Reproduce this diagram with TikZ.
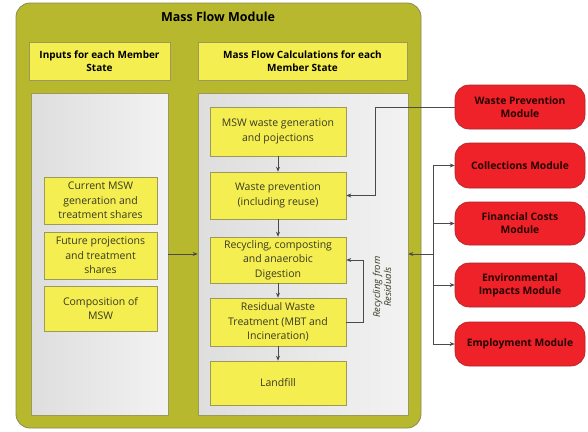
\documentclass[tikz,border=0pt]{standalone}
\usepackage{fontspec}
\setmainfont{Open Sans}
\usetikzlibrary{arrows.meta}
\definecolor{mfolive}{HTML}{B8B82E}
\definecolor{mfoliveline}{HTML}{8A8A55}
\definecolor{mfyellow}{HTML}{F4EE50}
\definecolor{mfyline}{HTML}{9C9A5A}
\definecolor{mfred}{HTML}{EE2228}
\definecolor{mfredline}{HTML}{A8262A}
\definecolor{mftext}{HTML}{3A3A22}
\definecolor{mfline}{HTML}{4A4A4A}
\tikzset{
  outerbox/.style={draw=mfoliveline, line width=0.8pt, fill=mfolive, rounded corners=14pt},
  headbox/.style={draw=mfyline, line width=0.6pt, fill=mfyellow, align=center, text=black,
    font=\bfseries\fontsize{10}{13}\selectfont, inner sep=1pt},
  panelbox/.style={draw=mfyline, line width=0.6pt, left color=black!13, right color=black!5},
  ybox/.style={draw=mfyline, line width=0.6pt, fill=mfyellow, align=center, text=mftext,
    font=\fontsize{10.5}{14.5}\selectfont, inner sep=1pt},
  redbox/.style={draw=mfredline, line width=0.6pt, fill=mfred, rounded corners=14pt, align=center,
    text=black!85!red, font=\bfseries\fontsize{10.3}{13}\selectfont, minimum width=130pt, inner sep=1pt},
  arr/.style={draw=mfline, line width=0.6pt, -{Stealth[length=5pt,width=4pt]}},
  ln/.style={draw=mfline, line width=0.6pt},
}
\begin{document}
\begin{tikzpicture}[x=1pt,y=-1pt]
\useasboundingbox (0,0) rectangle (588,431);
\fill[white] (0,0) rectangle (588,431);
% outer module
\node[outerbox, minimum width=405pt, minimum height=425pt] (outer) at (218.5,215.5) {};
\node[font=\bfseries\fontsize{12.5}{14}\selectfont, text=black] (title) at (218,17) {Mass Flow Module};
% headers
\node[headbox, minimum width=141pt, minimum height=38pt] (hl) at (99.5,61) {Inputs for each Member\\State};
\node[headbox, minimum width=209pt, minimum height=38pt] (hr) at (302.5,61) {Mass Flow Calculations for each\\Member State};
% panels
\node[panelbox, minimum width=137pt, minimum height=322pt] (pl) at (99.5,254) {};
\node[panelbox, minimum width=210pt, minimum height=322pt] (pr) at (303,254) {};
% left boxes
\node[ybox, minimum width=113pt, minimum height=47pt] (l1) at (100.5,200.5) {Current MSW\\generation and\\treatment shares};
\node[ybox, minimum width=113pt, minimum height=47pt] (l2) at (100.5,255.5) {Future projections\\and treatment\\shares};
\node[ybox, minimum width=113pt, minimum height=45pt] (l3) at (100.5,308.5) {Composition of\\MSW};
% right boxes
\node[ybox, minimum width=136pt, minimum height=49pt] (r1) at (278,131.5) {MSW waste generation\\and pojections};
\node[ybox, minimum width=136pt, minimum height=47pt] (r2) at (278,195.5) {Waste prevention\\(including reuse)};
\node[ybox, minimum width=136pt, minimum height=46pt] (r3) at (278,260) {Recycling, composting\\and anaerobic\\Digestion};
\node[ybox, minimum width=136pt, minimum height=48pt] (r4) at (278,322) {Residual Waste\\Treatment (MBT and\\Incineration)};
\node[ybox, minimum width=136pt, minimum height=44pt] (r5) at (278,383) {Landfill};
% red modules
\node[redbox, minimum height=44pt] (m1) at (520,107) {Waste Prevention\\Module};
\node[redbox, minimum height=45pt] (m2) at (520,165.5) {Collections Module};
\node[redbox, minimum height=43pt] (m3) at (520,223.5) {Financial Costs\\Module};
\node[redbox, minimum height=44pt] (m4) at (520,285) {Environmental\\Impacts Module};
\node[redbox, minimum height=44pt] (m5) at (520,344) {Employment Module};
% label
\node[rotate=90, align=center, text=mftext, font=\itshape\fontsize{9.5}{11}\selectfont] (reclab) at (382,287) {Recycling from\\Residuals};
% connectors
\draw[arr] (pl.east) -- (pr.west);
\draw[arr] (r1) -- (r2);
\draw[arr] (r2) -- (r3);
\draw[arr] (r3) -- (r4);
\draw[arr] (r4) -- (r5);
\coordinate (recx) at (363,0);
\draw[arr] (r4.east) -- (recx |- r4.east) |- (r3.east);
\coordinate (wpx) at (375,0);
\draw[arr] (m1.west) -- (wpx |- m1.west) |- (r2.east);
\coordinate (bus) at (433,254);
\draw[arr] (bus) -- (bus -| pr.east);
\draw[ln] (bus |- m2.west) -- (bus |- m5.west);
\draw[arr] (bus |- m2.west) -- (m2.west);
\draw[arr] (bus |- m3.west) -- (m3.west);
\draw[arr] (bus |- m4.west) -- (m4.west);
\draw[arr] (bus |- m5.west) -- (m5.west);
\end{tikzpicture}
\end{document}
